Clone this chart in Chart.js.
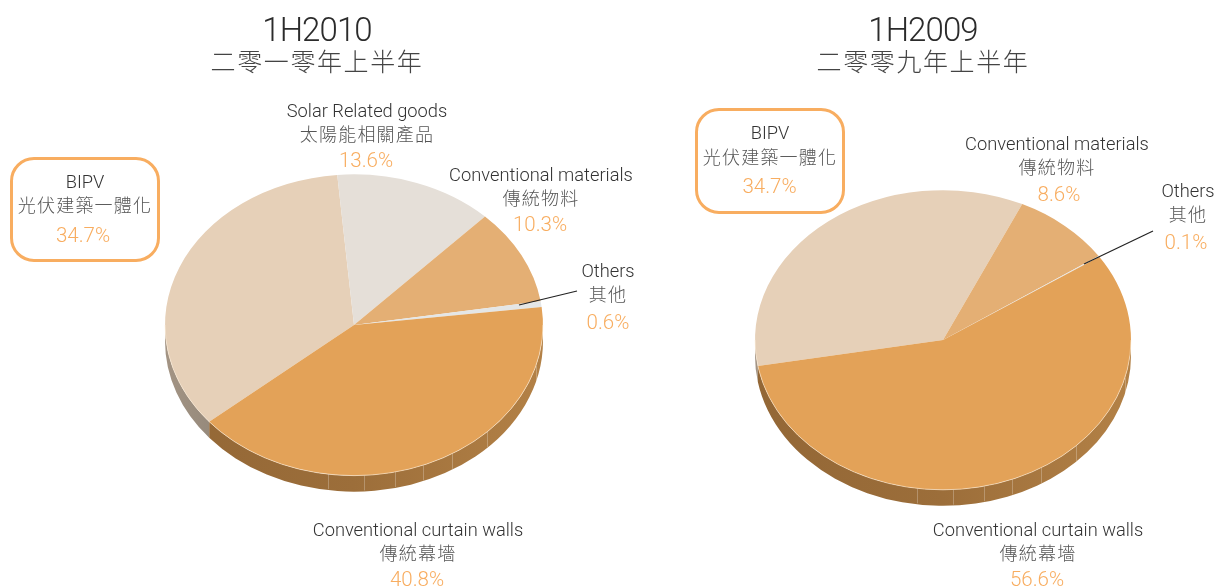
<!DOCTYPE html>
<html>
<head>
<meta charset="utf-8">
<script src="https://cdn.jsdelivr.net/npm/chart.js@4"></script>
<style>
html, body { margin: 0; padding: 0; background: #fff; }
#page { position: relative; width: 1217px; height: 588px; overflow: hidden; }
canvas { position: absolute; top: 0; }
.txt { position: absolute; white-space: nowrap; transform: translate(-50%, -50%); line-height: 1; }
.head { font: 300 33px Roboto, sans-serif; color: #2b2b2b; letter-spacing: -0.9px; }
.headZh { font: 300 25px "Noto Sans CJK TC", sans-serif; color: #444; letter-spacing: 1.6px; margin-top: -1px; }
.en { font: 300 18.3px Roboto, sans-serif; color: #333; margin-top: -1px; }
.zh { font: 300 18px "Noto Sans CJK TC", sans-serif; color: #555; letter-spacing: 1.2px; margin-top: -1px; }
.pct { font: 300 20.5px Roboto, sans-serif; color: #f8ad60; }
.box { position: absolute; box-sizing: border-box; border: 3px solid #f8ad60; border-radius: 24px; }
</style>
</head>
<body>
<div id="page">
  <canvas id="pie2010" width="608" height="588" style="left:0"></canvas>
  <canvas id="pie2009" width="609" height="588" style="left:608px"></canvas>
</div>
<script>
const categories2010 = ['BIPV', 'Solar Related goods', 'Conventional materials', 'Others', 'Conventional curtain walls'];
const categoriesZh2010 = ['光伏建築一體化', '太陽能相關產品', '傳統物料', '其他', '傳統幕墻'];
const values2010 = [34.7, 13.6, 10.3, 0.6, 40.8];

const categories2009 = ['BIPV', 'Conventional materials', 'Others', 'Conventional curtain walls'];
const categoriesZh2009 = ['光伏建築一體化', '傳統物料', '其他', '傳統幕墻'];
const values2009 = [34.7, 8.6, 0.1, 56.6];

const colors2010 = ['#e6d0b8', '#e5dfd8', '#e4af74', '#e4e6e6', '#e3a258'];
const colors2009 = ['#e6d0b8', '#e4af74', '#e4e6e6', '#e3a258'];

// label centres: x, y of the english line, chinese line and percent, then x of the percent
const labelPos2010 = [[85, 182, 205, 235, 83], [367, 111, 134, 160, 366], [541, 175, 198, 224, 540], [608, 271, 294, 322, 608], [418, 530, 553, 579, 417]];
const labelPos2009 = [[770, 133, 157, 186, 769.5], [1057, 144, 167, 194, 1059], [1188, 191, 214, 242, 1186], [1038, 530, 553, 579, 1037]];

const SQUASH = 0.797;
const DEPTH = 16;
const SEAMS = [-26, 10, 41, 69, 98, 133, 182]; // x offsets of the facet lines on the side wall

// squashes the pie into an ellipse and draws the side wall under it
const tiltPlugin = {
    id: 'tilt',
    beforeDatasetsDraw(chart) {
        const ctx = chart.ctx;
        const arcs = chart.getDatasetMeta(0).data;
        const cx = arcs[0].x, cy = arcs[0].y, r = arcs[0].outerRadius, ry = r * SQUASH;

        const warm = ctx.createLinearGradient(cx - r, 0, cx + r, 0);
        warm.addColorStop(0, '#936736');
        warm.addColorStop(0.5, '#9c6e3a');
        warm.addColorStop(1, '#b38146');
        const grey = ctx.createLinearGradient(cx - r, 0, cx - r + 50, 0);
        grey.addColorStop(0, '#a39484');
        grey.addColorStop(1, '#95897b');

        arcs.forEach((arc, i) => {
            [-2, 0, 2].forEach(k => {
                const a = Math.max(arc.startAngle + k * Math.PI, 0);
                const b = Math.min(arc.endAngle + k * Math.PI, Math.PI);
                if (b <= a) return;
                ctx.beginPath();
                ctx.ellipse(cx, cy, r, ry, 0, a, b);
                ctx.ellipse(cx, cy + DEPTH, r, ry, 0, b, a, true);
                ctx.closePath();
                ctx.fillStyle = i === 0 ? grey : warm;
                ctx.fill();
            });
        });

        ctx.strokeStyle = 'rgba(255,255,255,0.25)';
        ctx.lineWidth = 1;
        SEAMS.forEach(dx => {
            const t = dx / r;
            const y = cy + ry * Math.sqrt(1 - t * t);
            ctx.beginPath();
            ctx.moveTo(cx + dx + 0.5, y);
            ctx.lineTo(cx + dx + 0.5, y + DEPTH - 1);
            ctx.stroke();
        });

        ctx.save();
        ctx.translate(cx, cy);
        ctx.scale(1, SQUASH);
        ctx.translate(-cx, -cy);
    },
    afterDatasetsDraw(chart, args, opts) {
        const ctx = chart.ctx;
        ctx.restore();
        const arc = chart.getDatasetMeta(0).data[0];
        ctx.strokeStyle = 'rgba(255,240,220,0.55)';
        ctx.lineWidth = 1;
        ctx.beginPath();
        ctx.ellipse(arc.x, arc.y, arc.outerRadius, arc.outerRadius * SQUASH, 0, 0, Math.PI);
        ctx.stroke();

        // leader line for the thin Others slice
        ctx.strokeStyle = '#222';
        ctx.lineWidth = 1.2;
        ctx.beginPath();
        ctx.moveTo(opts.leader[0], opts.leader[1]);
        ctx.lineTo(opts.leader[2], opts.leader[3]);
        ctx.stroke();
    }
};

function drawPie(id, labels, values, colors, rotation, padding, leader) {
    return new Chart(document.getElementById(id), {
        type: 'pie',
        data: {
            labels: labels,
            datasets: [{ data: values, backgroundColor: colors, borderWidth: 0 }]
        },
        options: {
            responsive: false,
            animation: false,
            rotation: rotation,
            layout: { padding: padding },
            plugins: {
                legend: { display: false },
                tooltip: { enabled: false },
                tilt: { leader: leader }
            }
        },
        plugins: [tiltPlugin]
    });
}

drawPie('pie2010', categories2010, values2010, colors2010, 230,
    { left: 165, right: 65, top: 136, bottom: 74 }, [519, 305, 577, 291]);
drawPie('pie2009', categories2009, values2009, colors2009, 260,
    { left: 147, right: 86, top: 152, bottom: 60 }, [476, 264, 545, 231]);

const page = document.getElementById('page');

function addText(cls, text, x, y) {
    const el = document.createElement('div');
    el.className = 'txt ' + cls;
    el.textContent = text;
    el.style.left = x + 'px';
    el.style.top = y + 'px';
    page.appendChild(el);
}

function addBox(x, y, w, h) {
    const el = document.createElement('div');
    el.className = 'box';
    el.style.cssText = `left:${x}px;top:${y}px;width:${w}px;height:${h}px`;
    page.appendChild(el);
}

function addLabels(labels, zh, values, pos) {
    labels.forEach((name, i) => {
        addText('en', name, pos[i][0], pos[i][1]);
        addText('zh', zh[i], pos[i][0], pos[i][2]);
        addText('pct', values[i].toFixed(1) + '%', pos[i][4], pos[i][3]);
    });
}

addText('head', '1H2010', 317, 29);
addText('headZh', '二零一零年上半年', 317, 61);
addText('head', '1H2009', 923, 29);
addText('headZh', '二零零九年上半年', 923, 61);
addBox(10, 157, 150, 105);
addBox(695, 108, 150, 106);
addLabels(categories2010, categoriesZh2010, values2010, labelPos2010);
addLabels(categories2009, categoriesZh2009, values2009, labelPos2009);
</script>
</body>
</html>
